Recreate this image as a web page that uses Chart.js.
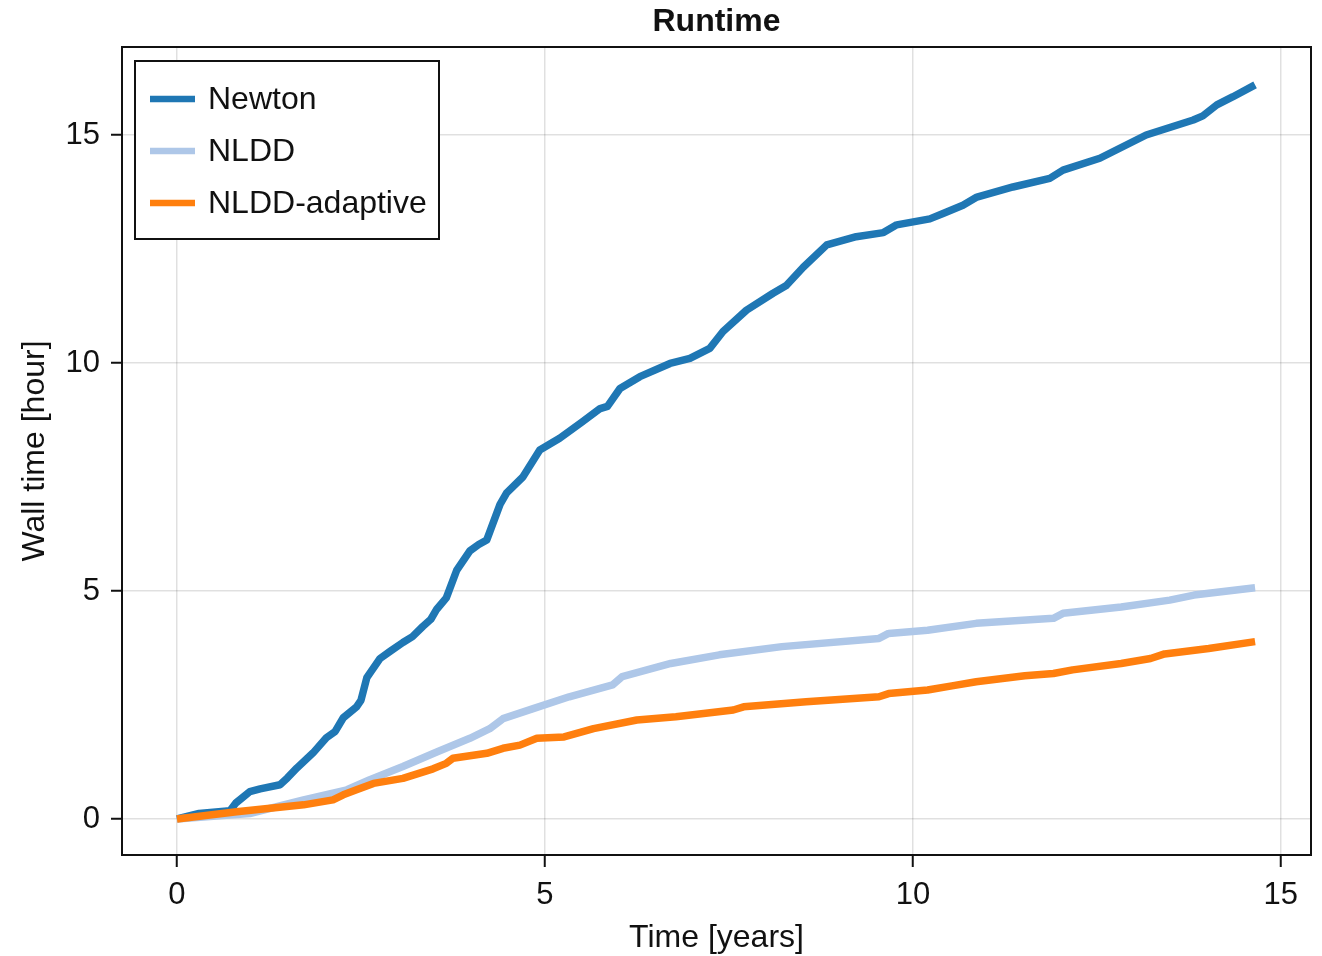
<!DOCTYPE html>
<html>
<head>
<meta charset="utf-8">
<title>Runtime</title>
<script src="https://cdn.jsdelivr.net/npm/chart.js@4.4.1/dist/chart.umd.min.js"></script>
<style>
  html, body { margin: 0; padding: 0; background: #fff; }
  canvas { display: block; }
</style>
</head>
<body>
<canvas id="myChart" width="1322" height="956"></canvas>
<script>
// values (time in years, wall time in hours)
const seriesNames = ['Newton', 'NLDD', 'NLDD-adaptive'];
const seriesColors = ['#1f77b4', '#aec7e8', '#ff7f0e'];

const newtonT = [0, 0.3, 0.72, 0.8, 0.99, 1.13, 1.4, 1.5, 1.63, 1.85, 2.03, 2.15, 2.26, 2.44, 2.5, 2.58,
  2.76, 2.9, 3.07, 3.2, 3.34, 3.45, 3.53, 3.66, 3.8, 3.98, 4.1, 4.21, 4.39, 4.48, 4.7, 4.93, 5.2, 5.5,
  5.75, 5.85, 6.02, 6.29, 6.7, 6.97, 7.24, 7.42, 7.74, 8.1, 8.28, 8.51, 8.83, 9.23, 9.6, 9.78, 10.23,
  10.41, 10.68, 10.87, 11.36, 11.86, 12.04, 12.54, 13.17, 13.81, 13.94, 14.13, 14.35, 14.65];
const newtonH = [0, 0.12, 0.18, 0.35, 0.6, 0.66, 0.75, 0.9, 1.12, 1.45, 1.78, 1.92, 2.22, 2.46, 2.6, 3.1,
  3.52, 3.68, 3.87, 4.0, 4.22, 4.38, 4.6, 4.85, 5.45, 5.88, 6.02, 6.12, 6.9, 7.15, 7.5, 8.09, 8.35, 8.7,
  9.0, 9.05, 9.44, 9.7, 9.99, 10.1, 10.32, 10.69, 11.16, 11.53, 11.7, 12.1, 12.59, 12.77, 12.86, 13.03, 13.16,
  13.28, 13.46, 13.64, 13.86, 14.05, 14.23, 14.49, 15.0, 15.33, 15.42, 15.66, 15.84, 16.1];

const nlddT = [0, 0.99, 1.72, 2.31, 2.62, 3.07, 3.53, 3.98, 4.25, 4.43, 4.84, 5.33, 5.92, 6.05, 6.71,
  7.37, 8.22, 9.54, 9.67, 10.2, 10.86, 11.91, 12.04, 12.83, 13.49, 13.82, 14.65];
const nlddH = [0, 0.12, 0.42, 0.64, 0.86, 1.15, 1.47, 1.77, 1.98, 2.2, 2.42, 2.68, 2.94, 3.12, 3.41,
  3.6, 3.78, 3.96, 4.07, 4.14, 4.29, 4.4, 4.51, 4.65, 4.8, 4.91, 5.07];

const adaptT = [0, 0.81, 1.72, 2.12, 2.26, 2.44, 2.67, 3.07, 3.48, 3.66, 3.75, 4.21, 4.43, 4.66, 4.89,
  5.26, 5.66, 6.25, 6.78, 7.56, 7.7, 8.55, 9.54, 9.67, 10.2, 10.53, 10.86, 11.52, 11.91, 12.17, 12.83,
  13.23, 13.42, 14.02, 14.65];
const adaptH = [0, 0.16, 0.31, 0.42, 0.53, 0.64, 0.78, 0.89, 1.1, 1.22, 1.33, 1.44, 1.55, 1.62, 1.77,
  1.8, 1.98, 2.17, 2.24, 2.39, 2.46, 2.57, 2.68, 2.75, 2.83, 2.92, 3.01, 3.14, 3.19, 3.27, 3.41,
  3.52, 3.62, 3.74, 3.89];

const xTicks = [0, 5, 10, 15];
const yTicks = [0, 5, 10, 15];

const FONT = '"Liberation Sans", Arial, Helvetica, sans-serif';
const INK = '#111111';

let toPoints = function (ts, hs) {
  return ts.map(function (t, i) { return {x: t, y: hs[i]}; });
};

// frame round the plot area, and the title centred over it
const framePlugin = {
  id: 'frame',
  afterDraw: function (chart) {
    const a = chart.chartArea;
    const ctx = chart.ctx;
    ctx.save();
    ctx.strokeStyle = INK;
    ctx.lineWidth = 2;
    ctx.strokeRect(a.left, a.top, a.right - a.left, a.bottom - a.top);
    ctx.fillStyle = INK;
    ctx.font = 'bold 32px ' + FONT;
    ctx.textAlign = 'center';
    ctx.textBaseline = 'middle';
    ctx.fillText('Runtime', (a.left + a.right) / 2, 22);
    ctx.restore();
  }
};

// boxed legend in the upper left corner of the plot
const boxLegend = {
  id: 'boxLegend',
  afterDraw: function (chart) {
    const ctx = chart.ctx;
    const a = chart.chartArea;
    const bx = a.left + 13, by = a.top + 14, bw = 304, bh = 178;
    ctx.save();
    ctx.fillStyle = '#fff';
    ctx.fillRect(bx, by, bw, bh);
    ctx.strokeStyle = INK;
    ctx.lineWidth = 2;
    ctx.strokeRect(bx, by, bw, bh);
    ctx.font = '32px ' + FONT;
    ctx.textBaseline = 'middle';
    ctx.fillStyle = INK;
    seriesNames.forEach(function (name, i) {
      const y = by + 38 + i * 52;
      ctx.strokeStyle = seriesColors[i];
      ctx.lineWidth = 6.5;
      ctx.beginPath();
      ctx.moveTo(bx + 15, y);
      ctx.lineTo(bx + 60, y);
      ctx.stroke();
      ctx.fillText(name, bx + 73, y + 1);
    });
    ctx.restore();
  }
};

const ctx = document.getElementById('myChart').getContext('2d');
const myChart = new Chart(ctx, {
  type: 'line',
  data: {
    datasets: [
      {label: seriesNames[0], data: toPoints(newtonT, newtonH), borderColor: seriesColors[0], order: 3},
      {label: seriesNames[1], data: toPoints(nlddT, nlddH), borderColor: seriesColors[1], order: 2},
      {label: seriesNames[2], data: toPoints(adaptT, adaptH), borderColor: seriesColors[2], order: 1}
    ]
  },
  options: {
    responsive: false,
    animation: false,
    layout: {padding: {left: 0, right: 11, top: 47, bottom: 0}},
    elements: {
      line: {borderWidth: 7.5, tension: 0, borderJoinStyle: 'round', borderCapStyle: 'butt'},
      point: {radius: 0}
    },
    plugins: {
      legend: {display: false},
      tooltip: {enabled: false},
      title: {display: false}
    },
    scales: {
      x: {
        type: 'linear',
        min: -0.747,
        max: 15.41,
        afterBuildTicks: function (scale) { scale.ticks = xTicks.map(function (v) { return {value: v}; }); },
        afterFit: function (scale) { scale.height = 101; },
        grid: {color: 'rgba(0,0,0,0.12)', lineWidth: 1.5, tickColor: INK, tickLength: 12, tickWidth: 2},
        border: {display: false},
        ticks: {color: INK, font: {family: FONT, size: 31}, padding: 10, maxRotation: 0},
        title: {display: true, text: 'Time [years]', color: INK,
          font: {family: FONT, size: 32, lineHeight: 1.1}, padding: {top: 0, bottom: 0}}
      },
      y: {
        type: 'linear',
        min: -0.79,
        max: 16.93,
        afterBuildTicks: function (scale) { scale.ticks = yTicks.map(function (v) { return {value: v}; }); },
        afterFit: function (scale) { scale.width = 122; },
        grid: {color: 'rgba(0,0,0,0.12)', lineWidth: 1.5, tickColor: INK, tickLength: 11, tickWidth: 2},
        border: {display: false},
        ticks: {color: INK, font: {family: FONT, size: 31}, padding: 11},
        title: {display: true, text: 'Wall time [hour]', color: INK,
          font: {family: FONT, size: 32, lineHeight: 1.2}, padding: {top: 16, bottom: 0}}
      }
    }
  },
  plugins: [framePlugin, boxLegend]
});
</script>
</body>
</html>
